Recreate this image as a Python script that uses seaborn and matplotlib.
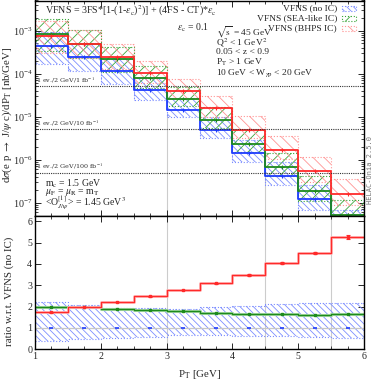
import numpy as np
import pandas as pd
import matplotlib
matplotlib.use("Agg")
import matplotlib.pyplot as plt
from matplotlib.patches import Rectangle
from matplotlib.ticker import MultipleLocator, LogLocator
import seaborn as sns

# P_T bins [GeV]
pt_edges = [1.0, 1.5, 2.0, 2.5, 3.0, 3.5, 4.0, 4.5, 5.0, 5.5, 6.0]

# dsigma/dP_T [nb/GeV], central values
xs_noic = [4.26e-4, 2.49e-4, 1.12e-4, 4.21e-5, 1.45e-5, 4.97e-6, 1.43e-6, 4.1e-7, 1.18e-7, 3.05e-8]
xs_sea = [8.39e-4, 4.88e-4, 2.13e-4, 7.75e-5, 2.6e-5, 8.45e-6, 2.36e-6, 6.72e-7, 1.9e-7, 5.1e-8]
xs_bhps = [7.37e-4, 4.91e-4, 2.49e-4, 1.04e-4, 4.03e-5, 1.54e-5, 4.98e-6, 1.65e-6, 5.31e-7, 1.6e-7]

# scale uncertainty band, relative to central value
unc_lo = [0.40, 0.47, 0.52, 0.59, 0.66, 0.65, 0.63, 0.61, 0.56, 0.55]
unc_hi = [2.22, 2.08, 1.95, 1.92, 1.89, 1.97, 2.03, 2.11, 2.16, 2.19]

# ratio w.r.t. VFNS (no IC)
ratio_sea = [1.97, 1.96, 1.90, 1.84, 1.79, 1.70, 1.65, 1.64, 1.61, 1.67]
ratio_bhps = [1.73, 1.97, 2.22, 2.48, 2.78, 3.09, 3.48, 4.03, 4.50, 5.25]
ratio_bhps_err = [0.01, 0.01, 0.01, 0.015, 0.02, 0.02, 0.03, 0.04, 0.05, 0.1]

# 1 event / 2 GeV lines
lumi_lines = [5e-5, 5e-6, 5e-7]
lumi_labels = ["1 ev./2 GeV/1 fb$^{-1}$", "1 ev./2 GeV/10 fb$^{-1}$", "1 ev./2 GeV/100 fb$^{-1}$"]

series = ["VFNS (no IC)", "VFNS (SEA-like IC)", "VFNS (BHPS IC)"]
line_col = {"VFNS (no IC)": "#1f3cff", "VFNS (SEA-like IC)": "#1d8a1d", "VFNS (BHPS IC)": "#ff2a2a"}
hatch_col = {"VFNS (no IC)": "#7d8eff", "VFNS (SEA-like IC)": "#3aa63a", "VFNS (BHPS IC)": "#ff9494"}
hatch_pat = {"VFNS (no IC)": "\\\\\\\\\\", "VFNS (SEA-like IC)": "///", "VFNS (BHPS IC)": "\\\\\\"}

sns.set_theme(style="ticks")
plt.rcParams["font.family"] = ["Liberation Serif", "DejaVu Serif"]
plt.rcParams["mathtext.fontset"] = "stix"
plt.rcParams["hatch.linewidth"] = 0.6
plt.rcParams["axes.linewidth"] = 1.0

W, H = 374, 382
fig = plt.figure(figsize=(W / 100, H / 100), dpi=100)


def fx(x):
    return x / W


def fy(y):
    return 1 - y / H


ax = fig.add_axes([fx(35), fy(215.5), fx(364) - fx(35), fy(0.5) - fy(215.5)])
axr = fig.add_axes([fx(35), fy(349.3), fx(364) - fx(35), fy(215.5) - fy(349.3)])

centers = [(a + b) / 2 for a, b in zip(pt_edges[:-1], pt_edges[1:])]
allv = xs_noic + xs_sea + xs_bhps
df = pd.DataFrame({
    "pt": centers * 3,
    "series": np.repeat(series, len(centers)),
    "val": allv,
    "lo": [v * l for v, l in zip(allv, unc_lo * 3)],
    "hi": [v * h for v, h in zip(allv, unc_hi * 3)],
})


def stepped(vals):
    vals = list(vals)
    return vals + [vals[-1]]


# ---- upper panel
for s in series:
    d = df[df["series"] == s]
    ax.fill_between(pt_edges, stepped(d["lo"]), stepped(d["hi"]), step="post",
                    facecolor="none", edgecolor=hatch_col[s], hatch=hatch_pat[s], linewidth=0)
    for col in ["lo", "hi"]:
        ax.step(pt_edges, stepped(d[col]), where="post", color=hatch_col[s], lw=0.8, ls=":")
    for e, l, h in zip(pt_edges, stepped(d["lo"]), stepped(d["hi"])):
        ax.plot([e, e], [l, h], color=hatch_col[s], lw=0.6, ls=":")

for s in series:
    d = df[df["series"] == s]
    sns.lineplot(x=pt_edges, y=stepped(d["val"]), drawstyle="steps-post", color=line_col[s],
                 lw=1.3, ax=ax, legend=False)
    ax.plot(d["pt"], d["val"], ls="none", marker="+", ms=2.5, mew=0.8, color=line_col[s])

for v, lab in zip(lumi_lines, lumi_labels):
    ax.axhline(v, color="#333333", lw=0.8, ls=(0, (1, 1)))
    ax.text(1.012, v * 1.1, lab, fontsize=4.6, color="#333333", va="bottom", ha="left",
            family="DejaVu Serif")

for xv, ymin in [(3.0, 1.1e-5), (4.5, 8.5e-7), (5.5, 3e-7)]:
    ax.plot([xv, xv], [5e-8, ymin], color="#cccccc", lw=0.8, zorder=0)

ax.set_yscale("log")
ax.set_xlim(1, 6)
ax.set_ylim(5e-8, 5e-3)
ax.set_xlabel("")
ax.set_ylabel(r"d$\sigma$(e p $\rightarrow$ J/$\psi$ c)/dP$_{\rm T}$ [nb/GeV]", fontsize=7.8)
ax.yaxis.set_label_coords(-0.063, 0.47)
ax.xaxis.set_major_locator(MultipleLocator(1))
ax.xaxis.set_minor_locator(MultipleLocator(0.25))
ax.yaxis.set_major_locator(LogLocator(base=10, numticks=10))
ax.yaxis.set_minor_locator(LogLocator(base=10, subs=np.arange(2, 10), numticks=20))
ax.tick_params(axis="x", labelbottom=False)

# ---- ratio panel
axr.fill_between(pt_edges, stepped(unc_lo), stepped(unc_hi), step="post", facecolor="none",
                 edgecolor=hatch_col[series[0]], hatch=hatch_pat[series[0]], linewidth=0)
for vals in [unc_lo, unc_hi]:
    axr.step(pt_edges, stepped(vals), where="post", color=hatch_col[series[0]], lw=0.8, ls=":")
axr.axhline(1.0, color="#c8c8c8", lw=0.9, zorder=1)
for xv in [3.0, 4.5, 5.5]:
    axr.axvline(xv, color="#cccccc", lw=0.8, zorder=0)
axr.plot(centers, [1.0] * len(centers), ls="none", marker="_", ms=3, mew=1.2, color=line_col[series[0]])

sns.lineplot(x=pt_edges, y=stepped(ratio_sea), drawstyle="steps-post", color="#9ed49e",
             lw=2.2, ax=axr, legend=False)
sns.lineplot(x=pt_edges, y=stepped(ratio_sea), drawstyle="steps-post", color=line_col[series[1]],
             lw=0.9, ax=axr, legend=False)
axr.plot(centers, ratio_sea, ls="none", marker="s", ms=1.5, color=line_col[series[1]])

sns.lineplot(x=pt_edges, y=stepped(ratio_bhps), drawstyle="steps-post", color="#ffb0b0",
             lw=2.0, ax=axr, legend=False)
sns.lineplot(x=pt_edges, y=stepped(ratio_bhps), drawstyle="steps-post", color=line_col[series[2]],
             lw=0.9, ax=axr, legend=False)
axr.errorbar(centers, ratio_bhps, yerr=ratio_bhps_err, ls="none", marker="s", ms=1.5,
             color=line_col[series[2]], elinewidth=0.8, capsize=1.5, capthick=0.8)

axr.set_xlim(1, 6)
axr.set_ylim(0, 6.27)
axr.set_xlabel(r"P$_{\rm T}$ [GeV]", fontsize=7.8)
axr.xaxis.set_label_coords(0.5, -0.14)
axr.set_ylabel("ratio w.r.t. VFNS (no IC)", fontsize=7.8)
axr.yaxis.set_label_coords(-0.063, 0.43)
axr.xaxis.set_major_locator(MultipleLocator(1))
axr.xaxis.set_minor_locator(MultipleLocator(0.25))
axr.yaxis.set_major_locator(MultipleLocator(1))

for a in (ax, axr):
    a.tick_params(which="both", direction="in", top=True, right=True, labelsize=7.2, pad=2)
    a.tick_params(which="major", length=4, width=0.7)
    a.tick_params(which="minor", length=2, width=0.6)
    for sp in a.spines.values():
        sp.set_color("black")

# ---- annotations
fs = 6.8
fig.text(fx(45), fy(11), r"VFNS = 3FS*[1-(1-$\epsilon_{\rm c}$)$^2$)] + (4FS - CT)*$\epsilon_{\rm c}$",
         fontsize=7.2, va="center", ha="left")
fig.text(fx(177), fy(28), r"$\epsilon_{\rm c}$ = 0.1", fontsize=7.0, va="center", ha="left")
info = [r"$\sqrt{\rm s}$ = 45 GeV", r"Q$^2$ < 1 GeV$^2$", "0.05 < z < 0.9",
        r"P$_{\rm T}$ > 1 GeV", r"10 GeV < W$_{\gamma{\rm p}}$ < 20 GeV"]
for t, yy in zip(info, [32.5, 42.5, 52.5, 62.5, 73]):
    fig.text(fx(216), fy(yy), t, fontsize=fs, va="center", ha="left")

for s, yy in zip(series, [8, 18.5, 28.5]):
    fig.text(fx(337), fy(yy), s, fontsize=6.8, va="center", ha="right")
    fig.patches.append(Rectangle((fx(342), fy(yy + 2.5)), fx(14), fy(0) - fy(5),
                                 transform=fig.transFigure, facecolor="none",
                                 edgecolor=hatch_col[s], hatch=hatch_pat[s], lw=0.8, ls=":"))

params = [r"m$_{\rm c}$ = 1.5 GeV", r"$\mu_{\rm F}$ = $\mu_{\rm R}$ = m$_{\rm T}$",
          r"<O$^{[1]}_{J/\psi}$> = 1.45 GeV$^3$"]
for t, yy in zip(params, [184, 193, 202.5]):
    fig.text(fx(45), fy(yy), t, fontsize=7.0, va="center", ha="left")

fig.text(fx(370), fy(170), "HELAC-Onia 2.5.0", fontsize=5, rotation=90, color="#777777",
         family="DejaVu Sans Mono", va="center", ha="center")

fig.savefig("out.png", dpi=100)
